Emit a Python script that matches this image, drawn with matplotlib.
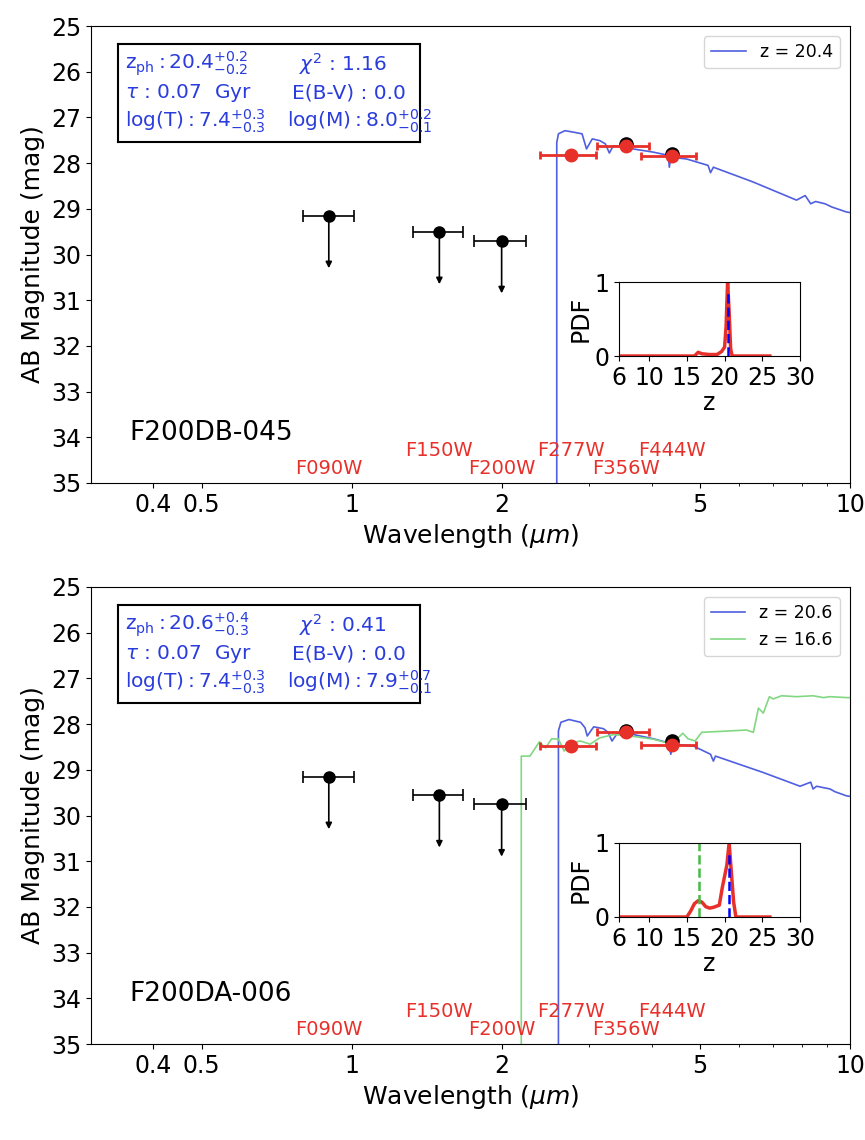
import numpy as np
import matplotlib
matplotlib.use('Agg')
import matplotlib.pyplot as plt

# filtros
filters = ['F090W', 'F150W', 'F200W', 'F277W', 'F356W', 'F444W']
wl_filt = [0.90, 1.50, 2.00, 2.76, 3.56, 4.40]
label_mag = [34.68, 34.28, 34.68, 34.28, 34.68, 34.28]

# limites superiores (negros)
lim_wl = [0.90, 1.50, 2.00]
lim_lo = [0.80, 1.33, 1.76]
lim_hi = [1.01, 1.67, 2.24]

# detecciones (rojas)
det_wl = [2.76, 3.56, 4.40]
det_lo = [2.39, 3.11, 3.81]
det_hi = [3.10, 3.95, 4.91]

# ---- panel superior: F200DB-045
name_a = 'F200DB-045'
lim_mag_a = [29.15, 29.5, 29.7]
det_mag_a = [27.82, 27.62, 27.85]
mod_wl_a = [3.56, 4.40]
mod_mag_a = [27.58, 27.80]
sed_wl_a = [2.58, 2.58, 2.60, 2.68, 2.81, 2.90, 2.96, 3.04, 3.15, 3.23, 3.29, 3.35, 3.51,
            3.67, 4.03, 4.32, 4.34, 4.37, 4.70, 5.19, 5.25, 5.32, 6.38, 7.81, 8.13,
            8.34, 8.53, 8.91, 9.19, 9.84, 10.5]
sed_mag_a = [35.5, 27.55, 27.36, 27.29, 27.33, 27.36, 27.69, 27.47, 27.51, 27.58, 27.78,
             27.62, 27.65, 27.69, 27.76, 27.83, 28.09, 27.87, 27.91, 28.05, 28.21, 28.09,
             28.41, 28.81, 28.71, 28.89, 28.84, 28.89, 28.96, 29.07, 29.12]
zlab_a = 'z = 20.4'
pdf_z_a = [6, 10, 15, 16.0, 16.5, 17.0, 18.0, 19.0, 19.6, 20.0, 20.2, 20.4, 20.6, 20.8, 21.0, 22, 26]
pdf_p_a = [0, 0, 0, 0.0, 0.05, 0.03, 0.02, 0.02, 0.06, 0.12, 0.4, 1.0, 0.6, 0.1, 0.0, 0, 0]
zbest_a = 20.4
info_a = [r'$\rm z_{ph}:20.4^{+0.2}_{-0.2}$', r'$\chi^2$ : 1.16',
          r'$\tau$ : 0.07  Gyr', 'E(B-V) : 0.0',
          r'$\rm log(T):7.4^{+0.3}_{-0.3}$', r'$\rm log(M):8.0^{+0.2}_{-0.1}$']

# ---- panel inferior: F200DA-006
name_b = 'F200DA-006'
lim_mag_b = [29.15, 29.55, 29.75]
det_mag_b = [28.48, 28.18, 28.45]
mod_wl_b = [3.56, 4.40]
mod_mag_b = [28.16, 28.38]
sed_wl_b = [2.60, 2.60, 2.63, 2.73, 2.88, 2.94, 2.97, 3.06, 3.20, 3.27, 3.33, 3.41, 3.68,
            4.03, 4.32, 4.37, 4.41, 4.85, 5.25, 5.32, 5.37, 6.70, 7.94, 8.34, 8.43, 8.57,
            9.12, 9.33, 9.84, 10.5]
sed_mag_b = [35.5, 28.15, 27.96, 27.90, 27.96, 28.08, 28.26, 28.06, 28.10, 28.18, 28.37,
             28.21, 28.23, 28.32, 28.41, 28.66, 28.44, 28.48, 28.66, 28.81, 28.70, 29.06,
             29.36, 29.27, 29.42, 29.36, 29.42, 29.48, 29.57, 29.62]
sed2_wl_b = [2.19, 2.19, 2.28, 2.38, 2.45, 2.52, 2.60, 2.67, 2.75, 2.88, 3.01, 3.15, 3.35,
             3.62, 4.03, 4.29, 4.49, 4.62, 4.73, 4.89, 5.04, 5.49, 6.20, 6.40, 6.55, 6.70,
             6.89, 7.01, 7.29, 7.81, 8.43, 8.85, 9.12, 9.84, 10.5]
sed2_mag_b = [35.5, 28.70, 28.70, 28.39, 28.52, 28.32, 28.33, 28.59, 28.41, 28.37, 28.44,
              28.30, 28.23, 28.26, 28.33, 28.41, 28.33, 28.20, 28.32, 28.37, 28.18, 28.16,
              28.13, 28.18, 27.65, 27.76, 27.40, 27.45, 27.38, 27.40, 27.38, 27.42, 27.40,
              27.42, 27.42]
zlab_b = 'z = 20.6'
zlab2_b = 'z = 16.6'
pdf_z_b = [6, 10, 15.0, 15.5, 16.0, 16.5, 17.0, 17.5, 18.0, 18.5, 19.3, 19.7, 20.0, 20.3, 20.6, 20.9, 21.2, 21.5, 22, 26]
pdf_p_b = [0, 0, 0.0, 0.08, 0.18, 0.22, 0.2, 0.14, 0.12, 0.13, 0.16, 0.4, 0.55, 0.7, 1.0, 0.6, 0.2, 0.0, 0, 0]
zbest_b = 20.6
zsec_b = 16.6
info_b = [r'$\rm z_{ph}:20.6^{+0.4}_{-0.3}$', r'$\chi^2$ : 0.41',
          r'$\tau$ : 0.07  Gyr', 'E(B-V) : 0.0',
          r'$\rm log(T):7.4^{+0.3}_{-0.3}$', r'$\rm log(M):7.9^{+0.7}_{-0.1}$']

c_blue = '#4f5fe0'
c_green = '#82d882'
c_red = '#e8302a'
c_txt = '#2a3ddc'

W, H = 865.0, 1140.0
fig = plt.figure(figsize=(8.65, 11.4), dpi=100)


def px(x0, y0, x1, y1):
    # caja en pixeles (arriba-izquierda) -> fraccion de figura
    return [x0 / W, 1 - y1 / H, (x1 - x0) / W, (y1 - y0) / H]


def panel(rect, inrect, boxy, name, lim_mag, det_mag, mod_wl, mod_mag, seds, pdf_z, pdf_p, zlines, info):
    ax = fig.add_axes(rect)
    for wl, mg, col, lab in seds:
        ax.plot(wl, mg, color=col, lw=1.2, label=lab)
    ax.legend(loc='upper right', fontsize=12.5, handlelength=2.0, borderaxespad=0.6)

    # limites
    for x, m, lo, hi in zip(lim_wl, lim_mag, lim_lo, lim_hi):
        ax.errorbar([x], [m], xerr=[[x - lo], [hi - x]], fmt='o', color='k', ms=8,
                    capsize=4, elinewidth=1.2, capthick=1.2)
        ax.annotate('', xy=(x, m + 1.15), xytext=(x, m),
                    arrowprops=dict(arrowstyle='-|>', color='k', lw=1.2, mutation_scale=9,
                                    shrinkA=0, shrinkB=0))
    ax.plot(mod_wl, mod_mag, 'o', color='k', ms=9.5)
    for x, m, lo, hi in zip(det_wl, det_mag, det_lo, det_hi):
        ax.errorbar([x], [m], xerr=[[x - lo], [hi - x]], fmt='o', color=c_red, ms=9,
                    capsize=3, elinewidth=2, capthick=2)

    for f, x, y in zip(filters, wl_filt, label_mag):
        ax.text(x, y, f, color=c_red, fontsize=14, ha='center', va='center')

    ax.text(0.05, 0.11, name, transform=ax.transAxes, fontsize=19, ha='left', va='center')

    ax.set_xscale('log')
    ax.set_xlim(0.3, 10)
    ax.set_ylim(35, 25)
    ax.set_yticks(range(25, 36))
    ax.set_xticks([0.4, 0.5, 1, 2, 5, 10])
    ax.set_xticklabels(['0.4', '0.5', '1', '2', '5', '10'])
    ax.set_xticks([3, 4, 6, 7, 8, 9], minor=True)
    ax.xaxis.set_minor_formatter(matplotlib.ticker.NullFormatter())
    ax.tick_params(labelsize=17)
    ax.set_xlabel(r'Wavelength ($\mu m$)', fontsize=18)
    ax.set_ylabel('AB Magnitude (mag)', fontsize=18)

    # caja de parametros
    box = fig.add_axes(px(118, boxy, 420, boxy + 98))
    box.set_xticks([])
    box.set_yticks([])
    box.patch.set_alpha(0)
    for s in box.spines.values():
        s.set_linewidth(1.5)
    xs = [0.023, 0.60, 0.023, 0.576, 0.023, 0.56]
    ys = [0.80, 0.80, 0.50, 0.50, 0.21, 0.21]
    for t, x, y in zip(info, xs, ys):
        box.text(x, y, t, transform=box.transAxes, color=c_txt, fontsize=14.5, va='center')

    # inset PDF
    ins = fig.add_axes(inrect)
    ins.plot(pdf_z, pdf_p, color=c_red, lw=2.5)
    for zz, col in zlines:
        ins.plot([zz, zz], [0, 0.85 if col == 'blue' else 1.0], '--', color=col, lw=1.8)
    ins.set_xlim(6, 30)
    ins.set_ylim(0, 1)
    ins.set_xticks([6, 10, 15, 20, 25, 30])
    ins.set_yticks([0, 1])
    ins.tick_params(labelsize=17)
    ins.set_xlabel('z', fontsize=17, labelpad=1)
    ins.set_ylabel('PDF', fontsize=17, labelpad=1)
    return ax


panel(px(91, 26, 850, 483), px(619, 282, 800, 356), 44, name_a,
      lim_mag_a, det_mag_a, mod_wl_a, mod_mag_a,
      [(sed_wl_a, sed_mag_a, c_blue, zlab_a)], pdf_z_a, pdf_p_a,
      [(zbest_a, 'blue')], info_a)

panel(px(91, 587, 850, 1044), px(619, 843, 800, 917), 605, name_b,
      lim_mag_b, det_mag_b, mod_wl_b, mod_mag_b,
      [(sed_wl_b, sed_mag_b, c_blue, zlab_b), (sed2_wl_b, sed2_mag_b, c_green, zlab2_b)],
      pdf_z_b, pdf_p_b, [(zbest_b, 'blue'), (zsec_b, '#44bb44')], info_b)

fig.savefig('out.png', dpi=100)
